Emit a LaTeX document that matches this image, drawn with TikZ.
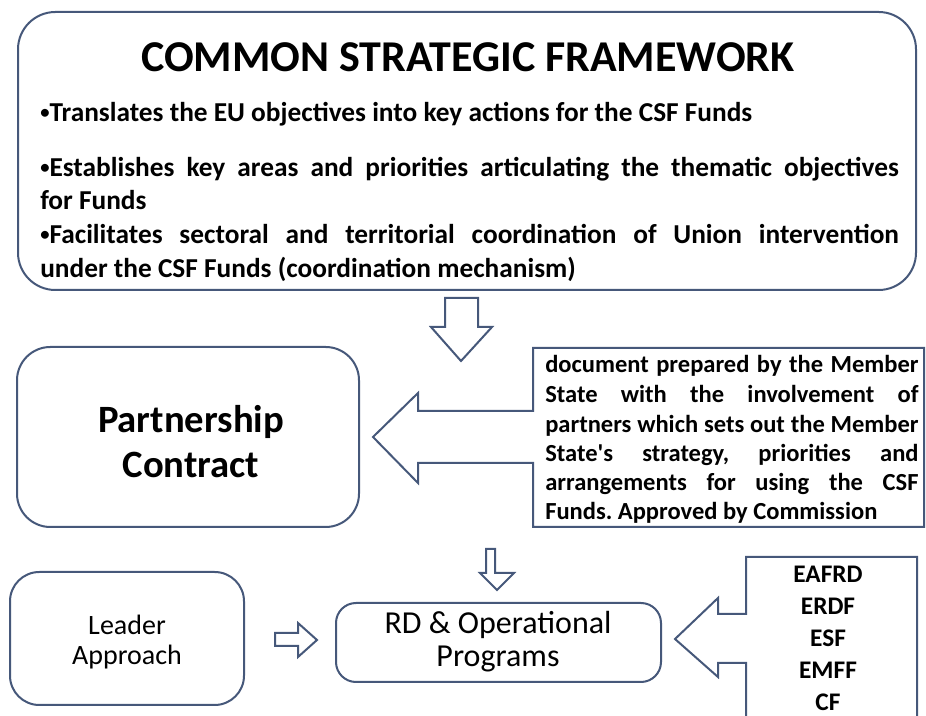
\documentclass[tikz,border=0pt]{standalone}
\usepackage{fontspec}
\setmainfont{Carlito}
\usetikzlibrary{calc}
\definecolor{edgeblue}{RGB}{70,88,122}
\newcommand{\dotmark}{\raisebox{0.12em}{\scalebox{0.68}{•}}}

\begin{document}
\frenchspacing
\begin{tikzpicture}[x=0.75pt, y=-0.75pt,
    outline/.style={draw=edgeblue, line width=1.5pt, fill=white, line join=miter},
    txt/.style={inner sep=0pt, anchor=base west},
    body/.style={txt, font=\bfseries\fontsize{20.5}{24}\selectfont},
    note/.style={txt, font=\bfseries\fontsize{18.4}{22}\selectfont},
    fund/.style={inner sep=0pt, anchor=base, font=\bfseries\fontsize{19}{22}\selectfont}]
    \useasboundingbox (0,0) rectangle (926,716);
    \clip (0,0) rectangle (926,716);
    % corner points of the boxes
    \coordinate (csfA) at (18,12);     \coordinate (csfB) at (916,290);
    \coordinate (pcA) at (17,347);     \coordinate (pcB) at (359,527);
    \coordinate (laA) at (10,572);     \coordinate (laB) at (244,705);
    \coordinate (rdA) at (336,603);    \coordinate (rdB) at (661,682);
    % rounded boxes
    \draw[outline, rounded corners=28pt] (csfA) rectangle (csfB);
    \draw[outline, rounded corners=25pt] (pcA) rectangle (pcB);
    \draw[outline, rounded corners=22pt] (laA) rectangle (laB);
    \draw[outline, rounded corners=15pt] (rdA) rectangle (rdB);
    % callout with its arrow to the contract
    \draw[outline] (533,348) -- (533,411) -- (418,411) -- (418,393) -- (373,437)
        -- (418,483) -- (418,463) -- (533,463) -- (533,527) -- (924,527)
        -- (924,348) -- cycle;
    % callout with its arrow to the programs
    \draw[outline] (746,557) -- (746,614) -- (718,614) -- (718,598) -- (675,639)
        -- (718,677) -- (718,663) -- (746,663) -- (746,730) -- (917,730)
        -- (917,557) -- cycle;
    % block arrows
    \draw[outline] (445,298) -- (478,298) -- (478,327) -- (492,327) -- (461,361)
        -- (431,327) -- (445,327) -- cycle;
    \draw[outline] (486,549) -- (495,549) -- (495,573) -- (514,573) -- (497,590)
        -- (480,573) -- (486,573) -- cycle;
    \draw[outline] (275,633) -- (298,633) -- (298,623) -- (317,640) -- (298,657)
        -- (298,646) -- (275,646) -- cycle;
    % framework text
    \node[inner sep=0pt, anchor=base, font=\bfseries\fontsize{33}{38}\selectfont]
        (title) at (468,72) {COMMON STRATEGIC FRAMEWORK};
    \node[body] (line1) at (40,122) {\dotmark Translates the EU objectives into key actions for the CSF Funds};
    \node[body] (line2) at (40,177) {\makebox[644pt][s]{\dotmark Establishes key areas and priorities articulating the thematic objectives}};
    \node[body] (line3) at (40,210) {for Funds};
    \node[body] (line4) at (40,244) {\makebox[644pt][s]{\dotmark Facilitates sectoral and territorial coordination of Union intervention}};
    \node[body] (line5) at (40,278) {under the CSF Funds (coordination mechanism)};
    % contract
    \node[inner sep=0pt, anchor=base, font=\bfseries\fontsize{29}{34}\selectfont]
        (pc1) at (191,433) {Partnership};
    \node[inner sep=0pt, anchor=base, font=\bfseries\fontsize{29}{34}\selectfont]
        (pc2) at (191,478) {Contract};
    % callout text
    \node[note] (nt1) at (545,373) {\makebox[280pt][s]{document prepared by the Member}};
    \node[note] (nt2) at (545,403) {\makebox[280pt][s]{State with the involvement of}};
    \node[note] (nt3) at (545,433) {\makebox[280pt][s]{partners which sets out the Member}};
    \node[note] (nt4) at (545,462) {\makebox[280pt][s]{State\textquotesingle s strategy, priorities and}};
    \node[note] (nt5) at (545,491) {\makebox[280pt][s]{arrangements for using the CSF}};
    \node[note] (nt6) at (545,520) {Funds. Approved by Commission};
    % leader approach
    \node[inner sep=0pt, anchor=base, font=\fontsize{21}{25}\selectfont]
        (la1) at (127,635) {Leader};
    \node[inner sep=0pt, anchor=base, font=\fontsize{21}{25}\selectfont]
        (la2) at (127,665) {Approach};
    % programs
    \node[inner sep=0pt, anchor=base, font=\fontsize{24}{29}\selectfont]
        (rd1) at (498,634) {RD \& Operational};
    \node[inner sep=0pt, anchor=base, font=\fontsize{24}{29}\selectfont]
        (rd2) at (498,667) {Programs};
    % funds
    \node[fund] (f1) at (828,583) {EAFRD};
    \node[fund] (f2) at (828,615) {ERDF};
    \node[fund] (f3) at (828,647) {ESF};
    \node[fund] (f4) at (828,679) {EMFF};
    \node[fund] (f5) at (828,711) {CF};
\end{tikzpicture}
\end{document}
